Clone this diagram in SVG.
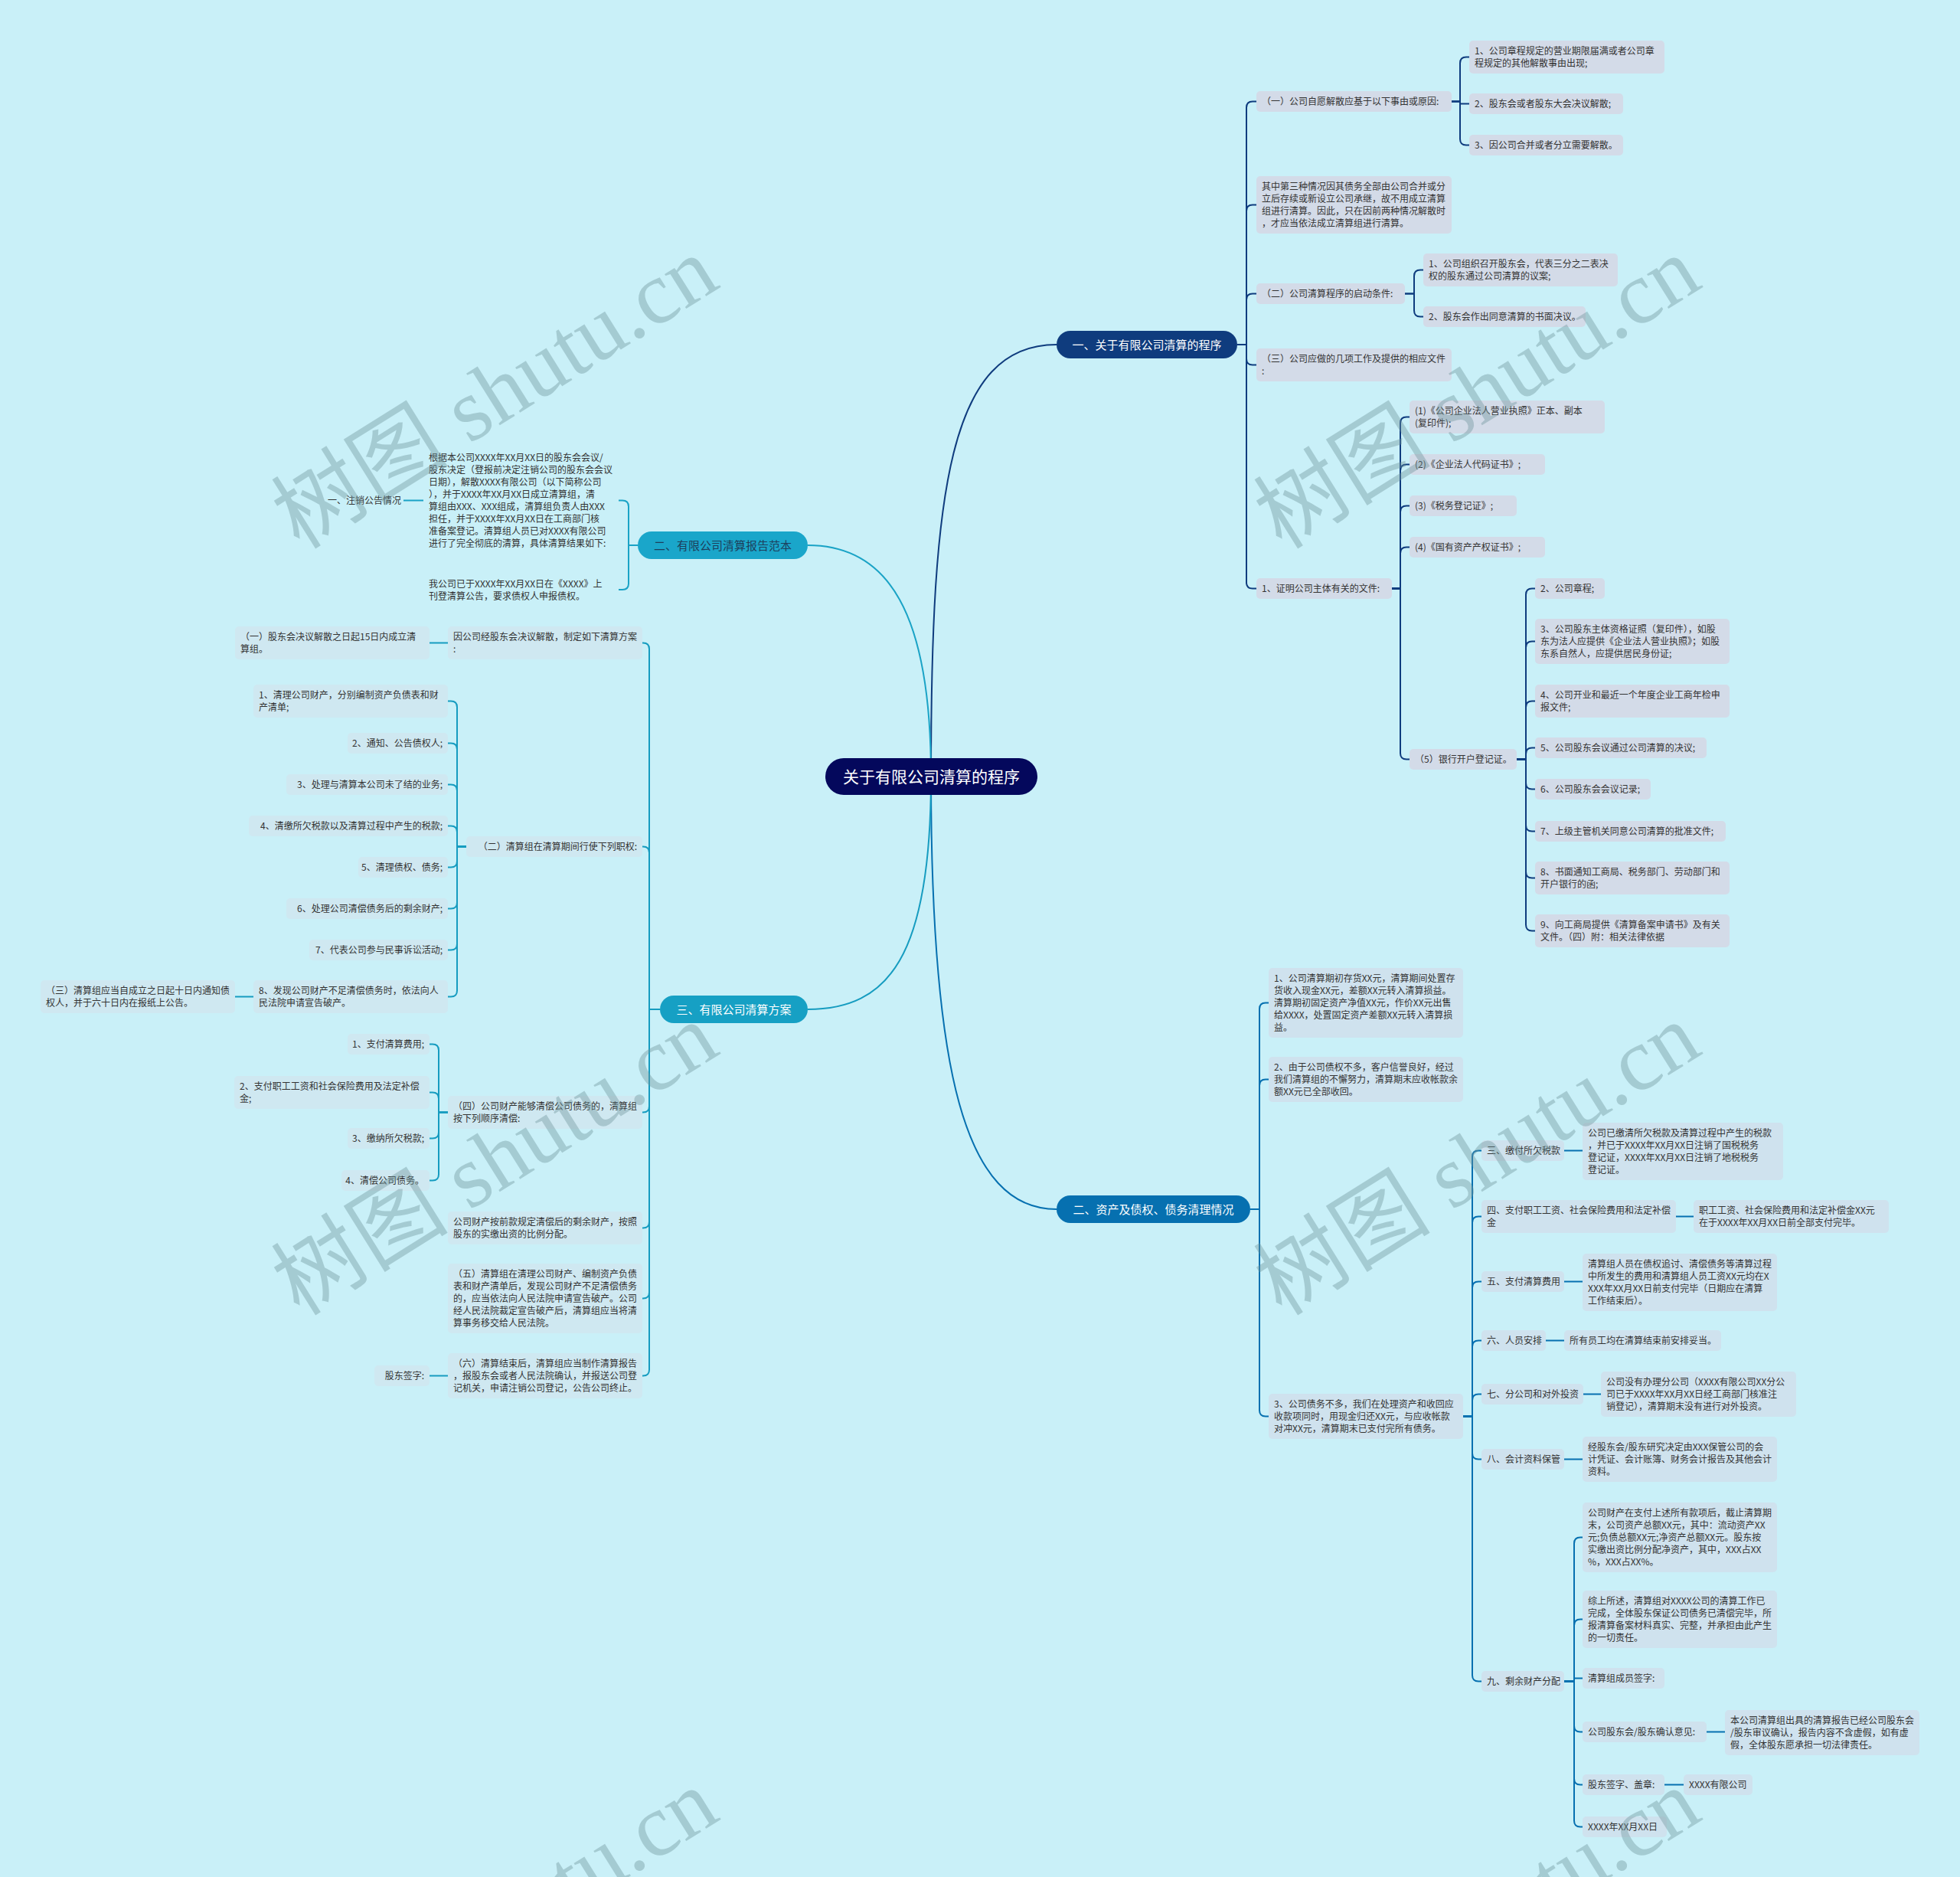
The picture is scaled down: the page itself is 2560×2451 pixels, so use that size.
<svg xmlns="http://www.w3.org/2000/svg" width="2560" height="2451" viewBox="0 0 2560 2451">
<style>
.t{font-family:"Noto Sans CJK SC","Noto Sans",sans-serif;font-size:12px;fill:#333}
.te{font-family:"Noto Sans CJK SC","Noto Sans",sans-serif;font-size:12px;fill:#333;text-anchor:end}
.b1{fill:#d3dbe8}
.b2{fill:#cfe2ee}
.b3{fill:#cfe8f1}
.bn{fill:none}
.br{font-family:"Noto Sans CJK SC","Noto Sans",sans-serif;font-size:15px;fill:#fff;text-anchor:middle}
.c1{fill:none;stroke:#0f3c7e;stroke-width:2}
.c2{fill:none;stroke:#0670b0;stroke-width:2}
.c3{fill:none;stroke:#1aa3c6;stroke-width:2}
.c4{fill:none;stroke:#169cc0;stroke-width:2}
.wm{font-family:"Liberation Serif","Noto Sans CJK SC",serif;font-size:116px;fill:#6f959c;opacity:0.4;text-anchor:middle}
</style>
<rect x="0" y="0" width="2560" height="2451" fill="#c9f0f8"/>

<g id="connectors">
<path class="c1" d="M1216,1014 C1216,640 1240,450 1380,450"/>
<path class="c2" d="M1216,1014 C1216,1400 1260,1579 1380,1579"/>
<path class="c3" d="M1216,1014 C1216,800 1160,712 1055,712"/>
<path class="c4" d="M1216,1014 C1216,1250 1160,1318 1055,1318"/>

<path class="c1" d="M1616,450 H1628 V140.5 Q1628,132.5 1636,132.5 H1641"/>
<path class="c1" d="M1616,450 H1628 V275.5 Q1628,267.5 1636,267.5 H1641"/>
<path class="c1" d="M1616,450 H1628 V391.5 Q1628,383.5 1636,383.5 H1641"/>
<path class="c1" d="M1616,450 H1628 V468.5 Q1628,476.5 1636,476.5 H1641"/>
<path class="c1" d="M1616,450 H1628 V760.5 Q1628,768.5 1636,768.5 H1641"/>

<path class="c1" d="M1896,132.5 H1907 V82.5 Q1907,74.5 1915,74.5 H1919"/>
<path class="c1" d="M1896,132.5 H1907 V135.5 H1919"/>
<path class="c1" d="M1896,132.5 H1907 V181.5 Q1907,189.5 1915,189.5 H1919"/>

<path class="c1" d="M1835,383.5 H1847 V360.5 Q1847,352.5 1855,352.5 H1859"/>
<path class="c1" d="M1835,383.5 H1847 V405.5 Q1847,413.5 1855,413.5 H1859"/>

<path class="c1" d="M1818,768.5 H1829 V552.5 Q1829,544.5 1837,544.5 H1841"/>
<path class="c1" d="M1818,768.5 H1829 V614.5 Q1829,606.5 1837,606.5 H1841"/>
<path class="c1" d="M1818,768.5 H1829 V668.5 Q1829,660.5 1837,660.5 H1841"/>
<path class="c1" d="M1818,768.5 H1829 V722.5 Q1829,714.5 1837,714.5 H1841"/>
<path class="c1" d="M1818,768.5 H1829 V983.5 Q1829,991.5 1837,991.5 H1841"/>

<path class="c1" d="M1981,991.5 H1993 V776.5 Q1993,768.5 2001,768.5 H2005"/>
<path class="c1" d="M1981,991.5 H1993 V845.5 Q1993,837.5 2001,837.5 H2005"/>
<path class="c1" d="M1981,991.5 H1993 V923.5 Q1993,915.5 2001,915.5 H2005"/>
<path class="c1" d="M1981,991.5 H1993 V984.5 Q1993,976.5 2001,976.5 H2005"/>
<path class="c1" d="M1981,991.5 H1993 V1022.5 Q1993,1030.5 2001,1030.5 H2005"/>
<path class="c1" d="M1981,991.5 H1993 V1077.5 Q1993,1085.5 2001,1085.5 H2005"/>
<path class="c1" d="M1981,991.5 H1993 V1138.5 Q1993,1146.5 2001,1146.5 H2005"/>
<path class="c1" d="M1981,991.5 H1993 V1207.5 Q1993,1215.5 2001,1215.5 H2005"/>

<path class="c2" d="M1633,1579 H1645 V1317.5 Q1645,1309.5 1653,1309.5 H1657"/>
<path class="c2" d="M1633,1579 H1645 V1417.5 Q1645,1409.5 1653,1409.5 H1657"/>
<path class="c2" d="M1633,1579 H1645 V1841.5 Q1645,1849.5 1653,1849.5 H1657"/>

<path class="c2" d="M1911,1849.5 H1923 V1510.5 Q1923,1502.5 1931,1502.5 H1935"/>
<path class="c2" d="M1911,1849.5 H1923 V1596.5 Q1923,1588.5 1931,1588.5 H1935"/>
<path class="c2" d="M1911,1849.5 H1923 V1681.5 Q1923,1673.5 1931,1673.5 H1935"/>
<path class="c2" d="M1911,1849.5 H1923 V1758.5 Q1923,1750.5 1931,1750.5 H1935"/>
<path class="c2" d="M1911,1849.5 H1923 V1828.5 Q1923,1820.5 1931,1820.5 H1935"/>
<path class="c2" d="M1911,1849.5 H1923 V1897.5 Q1923,1905.5 1931,1905.5 H1935"/>
<path class="c2" d="M1911,1849.5 H1923 V2187.5 Q1923,2195.5 1931,2195.5 H1935"/>

<path class="c2" d="M2043,1502.5 H2067"/>
<path class="c2" d="M2189,1588.5 H2212"/>
<path class="c2" d="M2043,1673.5 H2067"/>
<path class="c2" d="M2019,1750.5 H2043"/>
<path class="c2" d="M2068,1820.5 H2091"/>
<path class="c2" d="M2043,1905.5 H2067"/>

<path class="c2" d="M2043,2195.5 H2056 V2015.5 Q2056,2007.5 2064,2007.5 H2067"/>
<path class="c2" d="M2043,2195.5 H2056 V2122.5 Q2056,2114.5 2064,2114.5 H2067"/>
<path class="c2" d="M2043,2195.5 H2056 V2191.5 H2067"/>
<path class="c2" d="M2043,2195.5 H2056 V2253.5 Q2056,2261.5 2064,2261.5 H2067"/>
<path class="c2" d="M2043,2195.5 H2056 V2322.5 Q2056,2330.5 2064,2330.5 H2067"/>
<path class="c2" d="M2043,2195.5 H2056 V2377.5 Q2056,2385.5 2064,2385.5 H2067"/>
<path class="c2" d="M2229,2261.5 H2253"/>
<path class="c2" d="M2174,2330.5 H2199"/>

<path class="c3" d="M833,712 H821 V661.5 Q821,653.5 813,653.5 H808"/>
<path class="c3" d="M833,712 H821 V762 Q821,770 813,770 H808"/>
<path class="c3" d="M553,653.5 H527"/>

<path class="c4" d="M862,1318 H848 V847.5 Q848,839.5 840,839.5 H839"/>
<path class="c4" d="M862,1318 H848 V1113.5 Q848,1105.5 840,1105.5 H839"/>
<path class="c4" d="M862,1318 H848 V1444.5 Q848,1452.5 840,1452.5 H839"/>
<path class="c4" d="M862,1318 H848 V1595.5 Q848,1603.5 840,1603.5 H839"/>
<path class="c4" d="M862,1318 H848 V1687.5 Q848,1695.5 840,1695.5 H839"/>
<path class="c4" d="M862,1318 H848 V1788.5 Q848,1796.5 840,1796.5 H839"/>
<path class="c4" d="M585,839.5 H561"/>
<path class="c4" d="M609,1105.5 H597 V923.5 Q597,915.5 589,915.5 H585"/>
<path class="c4" d="M609,1105.5 H597 V978.5 Q597,970.5 589,970.5 H585"/>
<path class="c4" d="M609,1105.5 H597 V1032.5 Q597,1024.5 589,1024.5 H585"/>
<path class="c4" d="M609,1105.5 H597 V1086.5 Q597,1078.5 589,1078.5 H585"/>
<path class="c4" d="M609,1105.5 H597 V1124.5 Q597,1132.5 589,1132.5 H585"/>
<path class="c4" d="M609,1105.5 H597 V1178.5 Q597,1186.5 589,1186.5 H585"/>
<path class="c4" d="M609,1105.5 H597 V1232.5 Q597,1240.5 589,1240.5 H585"/>
<path class="c4" d="M609,1105.5 H597 V1293.5 Q597,1301.5 589,1301.5 H585"/>
<path class="c4" d="M331,1301.5 H307"/>
<path class="c4" d="M585,1452.5 H573 V1371.5 Q573,1363.5 565,1363.5 H561"/>
<path class="c4" d="M585,1452.5 H573 V1434.5 Q573,1426.5 565,1426.5 H561"/>
<path class="c4" d="M585,1452.5 H573 V1478.5 Q573,1486.5 565,1486.5 H561"/>
<path class="c4" d="M585,1452.5 H573 V1533.5 Q573,1541.5 565,1541.5 H561"/>
<path class="c4" d="M585,1796.5 H561"/>
</g>

<g id="root"><rect x="1078" y="990" width="277" height="48" rx="24" fill="#04085c"/><text x="1216.5" y="1021.5" style="font-family:'Noto Sans CJK SC',sans-serif;font-size:21px;fill:#fff;text-anchor:middle">关于有限公司清算的程序</text></g>
<g id="b1"><rect x="1380" y="432" width="236" height="36" rx="18" fill="#0f3c7e"/><text class="br" x="1498" y="455.5">一、关于有限公司清算的程序</text></g>
<g id="b2"><rect x="1380" y="1561" width="253" height="36" rx="18" fill="#0670b0"/><text class="br" x="1506.5" y="1584.5">二、资产及债权、债务清理情况</text></g>
<g id="l1"><rect x="833" y="694" width="222" height="36" rx="18" fill="#1aa6ca"/><text class="br" x="944" y="717.5" style="fill:#1d3f5c">二、有限公司清算报告范本</text></g>
<g id="l2"><rect x="862" y="1300" width="193" height="36" rx="18" fill="#16a0c4"/><text class="br" x="958.5" y="1323.5">三、有限公司清算方案</text></g>

<g id="n1"><rect class="b1" x="1641" y="119" width="255" height="27" rx="5"/><text class="t" x="1648" y="137">（一）公司自愿解散应基于以下事由或原因:</text></g>
<g id="n1c1"><rect class="b1" x="1919" y="53" width="255" height="43" rx="5"/><text class="t" x="1926" y="71"><tspan x="1926">1、公司章程规定的营业期限届满或者公司章</tspan><tspan x="1926" dy="16">程规定的其他解散事由出现;</tspan></text></g>
<g id="n1c2"><rect class="b1" x="1919" y="122" width="201" height="27" rx="5"/><text class="t" x="1926" y="140">2、股东会或者股东大会决议解散;</text></g>
<g id="n1c3"><rect class="b1" x="1919" y="176" width="201" height="27" rx="5"/><text class="t" x="1926" y="194">3、因公司合并或者分立需要解散。</text></g>
<g id="n2"><rect class="b1" x="1641" y="230" width="255" height="75" rx="5"/><text class="t" y="248"><tspan x="1648">其中第三种情况因其债务全部由公司合并或分</tspan><tspan x="1648" dy="16">立后存续或新设立公司承继，故不用成立清算</tspan><tspan x="1648" dy="16">组进行清算。因此，只在因前两种情况解散时</tspan><tspan x="1648" dy="16">，才应当依法成立清算组进行清算。</tspan></text></g>
<g id="n3"><rect class="b1" x="1641" y="370" width="194" height="27" rx="5"/><text class="t" x="1648" y="388">（二）公司清算程序的启动条件:</text></g>
<g id="n3c1"><rect class="b1" x="1859" y="331" width="254" height="43" rx="5"/><text class="t" y="349"><tspan x="1866">1、公司组织召开股东会，代表三分之二表决</tspan><tspan x="1866" dy="16">权的股东通过公司清算的议案;</tspan></text></g>
<g id="n3c2"><rect class="b1" x="1859" y="400" width="212" height="27" rx="5"/><text class="t" x="1866" y="418">2、股东会作出同意清算的书面决议。</text></g>
<g id="n4"><rect class="b1" x="1641" y="455" width="255" height="43" rx="5"/><text class="t" y="473"><tspan x="1648">（三）公司应做的几项工作及提供的相应文件</tspan><tspan x="1648" dy="16">:</tspan></text></g>
<g id="n5"><rect class="b1" x="1641" y="755" width="177" height="27" rx="5"/><text class="t" x="1648" y="773">1、证明公司主体有关的文件:</text></g>
<g id="n5c1"><rect class="b1" x="1841" y="523" width="255" height="43" rx="5"/><text class="t" y="541"><tspan x="1848">(1)《公司企业法人营业执照》正本、副本</tspan><tspan x="1848" dy="16">(复印件);</tspan></text></g>
<g id="n5c2"><rect class="b1" x="1841" y="593" width="177" height="27" rx="5"/><text class="t" x="1848" y="611">(2)《企业法人代码证书》;</text></g>
<g id="n5c3"><rect class="b1" x="1841" y="647" width="140" height="27" rx="5"/><text class="t" x="1848" y="665">(3)《税务登记证》;</text></g>
<g id="n5c4"><rect class="b1" x="1841" y="701" width="177" height="27" rx="5"/><text class="t" x="1848" y="719">(4)《国有资产产权证书》;</text></g>
<g id="n5c5"><rect class="b1" x="1841" y="978" width="140" height="27" rx="5"/><text class="t" x="1848" y="996">（5）银行开户登记证。</text></g>
<g id="d2"><rect class="b1" x="2005" y="755" width="91" height="27" rx="5"/><text class="t" x="2012" y="773">2、公司章程;</text></g>
<g id="d3"><rect class="b1" x="2005" y="808" width="254" height="59" rx="5"/><text class="t" y="826"><tspan x="2012">3、公司股东主体资格证照（复印件），如股</tspan><tspan x="2012" dy="16">东为法人应提供《企业法人营业执照》；如股</tspan><tspan x="2012" dy="16">东系自然人，应提供居民身份证;</tspan></text></g>
<g id="d4"><rect class="b1" x="2005" y="894" width="254" height="43" rx="5"/><text class="t" y="912"><tspan x="2012">4、公司开业和最近一个年度企业工商年检申</tspan><tspan x="2012" dy="16">报文件;</tspan></text></g>
<g id="d5"><rect class="b1" x="2005" y="963" width="224" height="27" rx="5"/><text class="t" x="2012" y="981">5、公司股东会议通过公司清算的决议;</text></g>
<g id="d6"><rect class="b1" x="2005" y="1017" width="151" height="27" rx="5"/><text class="t" x="2012" y="1035">6、公司股东会会议记录;</text></g>
<g id="d7"><rect class="b1" x="2005" y="1072" width="249" height="27" rx="5"/><text class="t" x="2012" y="1090">7、上级主管机关同意公司清算的批准文件;</text></g>
<g id="d8"><rect class="b1" x="2005" y="1125" width="254" height="43" rx="5"/><text class="t" y="1143"><tspan x="2012">8、书面通知工商局、税务部门、劳动部门和</tspan><tspan x="2012" dy="16">开户银行的函;</tspan></text></g>
<g id="d9"><rect class="b1" x="2005" y="1194" width="254" height="43" rx="5"/><text class="t" y="1212"><tspan x="2012">9、向工商局提供《清算备案申请书》及有关</tspan><tspan x="2012" dy="16">文件。（四）附：相关法律依据</tspan></text></g>

<g id="e1"><rect class="b2" x="1657" y="1264" width="254" height="91" rx="5"/><text class="t" y="1282"><tspan x="1664">1、公司清算期初存货XX元，清算期间处置存</tspan><tspan x="1664" dy="16">货收入现金XX元，差额XX元转入清算损益。</tspan><tspan x="1664" dy="16">清算期初固定资产净值XX元，作价XX元出售</tspan><tspan x="1664" dy="16">给XXXX，处置固定资产差额XX元转入清算损</tspan><tspan x="1664" dy="16">益。</tspan></text></g>
<g id="e2"><rect class="b2" x="1657" y="1380" width="254" height="59" rx="5"/><text class="t" y="1398"><tspan x="1664">2、由于公司债权不多，客户信誉良好，经过</tspan><tspan x="1664" dy="16">我们清算组的不懈努力，清算期末应收帐款余</tspan><tspan x="1664" dy="16">额XX元已全部收回。</tspan></text></g>
<g id="e3"><rect class="b2" x="1657" y="1820" width="254" height="59" rx="5"/><text class="t" y="1838"><tspan x="1664">3、公司债务不多，我们在处理资产和收回应</tspan><tspan x="1664" dy="16">收款项同时，用现金归还XX元，与应收帐款</tspan><tspan x="1664" dy="16">对冲XX元，清算期末已支付完所有债务。</tspan></text></g>
<g id="f3"><rect class="b2" x="1935" y="1489" width="108" height="27" rx="5"/><text class="t" x="1942" y="1507">三、缴付所欠税款</text></g>
<g id="f3c"><rect class="b2" x="2067" y="1466" width="262" height="75" rx="5"/><text class="t" y="1484"><tspan x="2074">公司已缴清所欠税款及清算过程中产生的税款</tspan><tspan x="2074" dy="16">，并已于XXXX年XX月XX日注销了国税税务</tspan><tspan x="2074" dy="16">登记证，XXXX年XX月XX日注销了地税税务</tspan><tspan x="2074" dy="16">登记证。</tspan></text></g>
<g id="f4"><rect class="b2" x="1935" y="1567" width="254" height="43" rx="5"/><text class="t" y="1585"><tspan x="1942">四、支付职工工资、社会保险费用和法定补偿</tspan><tspan x="1942" dy="16">金</tspan></text></g>
<g id="f4c"><rect class="b2" x="2212" y="1567" width="255" height="43" rx="5"/><text class="t" y="1585"><tspan x="2219">职工工资、社会保险费用和法定补偿金XX元</tspan><tspan x="2219" dy="16">在于XXXX年XX月XX日前全部支付完毕。</tspan></text></g>
<g id="f5"><rect class="b2" x="1935" y="1660" width="108" height="27" rx="5"/><text class="t" x="1942" y="1678">五、支付清算费用</text></g>
<g id="f5c"><rect class="b2" x="2067" y="1637" width="254" height="75" rx="5"/><text class="t" y="1655"><tspan x="2074">清算组人员在债权追讨、清偿债务等清算过程</tspan><tspan x="2074" dy="16">中所发生的费用和清算组人员工资XX元均在X</tspan><tspan x="2074" dy="16">XXX年XX月XX日前支付完毕（日期应在清算</tspan><tspan x="2074" dy="16">工作结束后）。</tspan></text></g>
<g id="f6"><rect class="b2" x="1935" y="1737" width="84" height="27" rx="5"/><text class="t" x="1942" y="1755">六、人员安排</text></g>
<g id="f6c"><rect class="b2" x="2043" y="1737" width="205" height="27" rx="5"/><text class="t" x="2050" y="1755">所有员工均在清算结束前安排妥当。</text></g>
<g id="f7"><rect class="b2" x="1935" y="1807" width="133" height="27" rx="5"/><text class="t" x="1942" y="1825">七、分公司和对外投资</text></g>
<g id="f7c"><rect class="b2" x="2091" y="1791" width="255" height="59" rx="5"/><text class="t" y="1809"><tspan x="2098">公司没有办理分公司（XXXX有限公司XX分公</tspan><tspan x="2098" dy="16">司已于XXXX年XX月XX日经工商部门核准注</tspan><tspan x="2098" dy="16">销登记），清算期末没有进行对外投资。</tspan></text></g>
<g id="f8"><rect class="b2" x="1935" y="1892" width="108" height="27" rx="5"/><text class="t" x="1942" y="1910">八、会计资料保管</text></g>
<g id="f8c"><rect class="b2" x="2067" y="1876" width="254" height="59" rx="5"/><text class="t" y="1894"><tspan x="2074">经股东会/股东研究决定由XXX保管公司的会</tspan><tspan x="2074" dy="16">计凭证、会计账簿、财务会计报告及其他会计</tspan><tspan x="2074" dy="16">资料。</tspan></text></g>
<g id="f9"><rect class="b2" x="1935" y="2182" width="108" height="27" rx="5"/><text class="t" x="1942" y="2200">九、剩余财产分配</text></g>
<g id="g1"><rect class="b2" x="2067" y="1962" width="254" height="91" rx="5"/><text class="t" y="1980"><tspan x="2074">公司财产在支付上述所有款项后，截止清算期</tspan><tspan x="2074" dy="16">末，公司资产总额XX元，其中：流动资产XX</tspan><tspan x="2074" dy="16">元;负债总额XX元;净资产总额XX元。股东按</tspan><tspan x="2074" dy="16">实缴出资比例分配净资产，其中，XXX占XX</tspan><tspan x="2074" dy="16">%，XXX占XX%。</tspan></text></g>
<g id="g2"><rect class="b2" x="2067" y="2077" width="254" height="75" rx="5"/><text class="t" y="2095"><tspan x="2074">综上所述，清算组对XXXX公司的清算工作已</tspan><tspan x="2074" dy="16">完成，全体股东保证公司债务已清偿完毕，所</tspan><tspan x="2074" dy="16">报清算备案材料真实、完整，并承担由此产生</tspan><tspan x="2074" dy="16">的一切责任。</tspan></text></g>
<g id="g3"><rect class="b2" x="2067" y="2178" width="107" height="27" rx="5"/><text class="t" x="2074" y="2196">清算组成员签字:</text></g>
<g id="g4"><rect class="b2" x="2067" y="2248" width="162" height="27" rx="5"/><text class="t" x="2074" y="2266">公司股东会/股东确认意见:</text></g>
<g id="g4c"><rect class="b2" x="2253" y="2233" width="254" height="59" rx="5"/><text class="t" y="2251"><tspan x="2260">本公司清算组出具的清算报告已经公司股东会</tspan><tspan x="2260" dy="16">/股东审议确认，报告内容不含虚假，如有虚</tspan><tspan x="2260" dy="16">假，全体股东愿承担一切法律责任。</tspan></text></g>
<g id="g5"><rect class="b2" x="2067" y="2317" width="107" height="27" rx="5"/><text class="t" x="2074" y="2335">股东签字、盖章:</text></g>
<g id="g5c"><rect class="b2" x="2199" y="2317" width="90" height="27" rx="5"/><text class="t" x="2206" y="2335">XXXX有限公司</text></g>
<g id="g6"><rect class="b2" x="2067" y="2372" width="110" height="27" rx="5"/><text class="t" x="2074" y="2390">XXXX年XX月XX日</text></g>

<g id="h1"><rect class="bn" x="553" y="584" width="255" height="139" rx="5"/><text class="t" y="602"><tspan x="560">根据本公司XXXX年XX月XX日的股东会会议/</tspan><tspan x="560" dy="16">股东决定（登报前决定注销公司的股东会会议</tspan><tspan x="560" dy="16">日期），解散XXXX有限公司（以下简称公司</tspan><tspan x="560" dy="16">），并于XXXX年XX月XX日成立清算组，清</tspan><tspan x="560" dy="16">算组由XXX、XXX组成，清算组负责人由XXX</tspan><tspan x="560" dy="16">担任，并于XXXX年XX月XX日在工商部门核</tspan><tspan x="560" dy="16">准备案登记。清算组人员已对XXXX有限公司</tspan><tspan x="560" dy="16">进行了完全彻底的清算，具体清算结果如下:</tspan></text></g>
<g id="h1c"><text class="te" x="524" y="657.5">一、注销公告情况</text></g>
<g id="h2"><rect class="bn" x="553" y="748.5" width="255" height="43" rx="5"/><text class="t" y="766.5"><tspan x="560">我公司已于XXXX年XX月XX日在《XXXX》上</tspan><tspan x="560" dy="16">刊登清算公告，要求债权人申报债权。</tspan></text></g>

<g id="i1"><rect class="b3" x="585" y="818" width="254" height="43" rx="5"/><text class="t" y="836"><tspan x="592">因公司经股东会决议解散，制定如下清算方案</tspan><tspan x="592" dy="16">:</tspan></text></g>
<g id="i1c"><rect class="b3" x="307" y="818" width="254" height="43" rx="5"/><text class="t" y="836"><tspan x="314">（一）股东会决议解散之日起15日内成立清</tspan><tspan x="314" dy="16">算组。</tspan></text></g>
<g id="i2"><rect class="b3" x="609" y="1092" width="230" height="27" rx="5"/><text class="te" x="832" y="1110">（二）清算组在清算期间行使下列职权:</text></g>
<g id="j1"><rect class="b3" x="331" y="894" width="254" height="43" rx="5"/><text class="t" y="912"><tspan x="338">1、清理公司财产，分别编制资产负债表和财</tspan><tspan x="338" dy="16">产清单;</tspan></text></g>
<g id="j2"><rect class="b3" x="454" y="957" width="131" height="27" rx="5"/><text class="te" x="578" y="975">2、通知、公告债权人;</text></g>
<g id="j3"><rect class="b3" x="374" y="1011" width="211" height="27" rx="5"/><text class="te" x="578" y="1029">3、处理与清算本公司未了结的业务;</text></g>
<g id="j4"><rect class="b3" x="325" y="1065" width="260" height="27" rx="5"/><text class="te" x="578" y="1083">4、清缴所欠税款以及清算过程中产生的税款;</text></g>
<g id="j5"><rect class="b3" x="468" y="1119" width="117" height="27" rx="5"/><text class="te" x="578" y="1137">5、清理债权、债务;</text></g>
<g id="j6"><rect class="b3" x="374" y="1173" width="211" height="27" rx="5"/><text class="te" x="578" y="1191">6、处理公司清偿债务后的剩余财产;</text></g>
<g id="j7"><rect class="b3" x="404" y="1227" width="181" height="27" rx="5"/><text class="te" x="578" y="1245">7、代表公司参与民事诉讼活动;</text></g>
<g id="j8"><rect class="b3" x="331" y="1280" width="254" height="43" rx="5"/><text class="t" y="1298"><tspan x="338">8、发现公司财产不足清偿债务时，依法向人</tspan><tspan x="338" dy="16">民法院申请宣告破产。</tspan></text></g>
<g id="j8c"><rect class="b3" x="53" y="1280" width="254" height="43" rx="5"/><text class="t" y="1298"><tspan x="60">（三）清算组应当自成立之日起十日内通知债</tspan><tspan x="60" dy="16">权人，并于六十日内在报纸上公告。</tspan></text></g>
<g id="k"><rect class="b3" x="585" y="1431" width="254" height="43" rx="5"/><text class="t" y="1449"><tspan x="592">（四）公司财产能够清偿公司债务的，清算组</tspan><tspan x="592" dy="16">按下列顺序清偿:</tspan></text></g>
<g id="k1"><rect class="b3" x="454" y="1350" width="107" height="27" rx="5"/><text class="te" x="554" y="1368">1、支付清算费用;</text></g>
<g id="k2"><rect class="b3" x="306" y="1405" width="255" height="43" rx="5"/><text class="t" y="1423"><tspan x="313">2、支付职工工资和社会保险费用及法定补偿</tspan><tspan x="313" dy="16">金;</tspan></text></g>
<g id="k3"><rect class="b3" x="454" y="1473" width="107" height="27" rx="5"/><text class="te" x="554" y="1491">3、缴纳所欠税款;</text></g>
<g id="k4"><rect class="b3" x="446" y="1528" width="115" height="27" rx="5"/><text class="te" x="554" y="1546">4、清偿公司债务。</text></g>
<g id="m"><rect class="b3" x="585" y="1582" width="254" height="43" rx="5"/><text class="t" y="1600"><tspan x="592">公司财产按前款规定清偿后的剩余财产，按照</tspan><tspan x="592" dy="16">股东的实缴出资的比例分配。</tspan></text></g>
<g id="p"><rect class="b3" x="585" y="1650" width="254" height="91" rx="5"/><text class="t" y="1668"><tspan x="592">（五）清算组在清理公司财产、编制资产负债</tspan><tspan x="592" dy="16">表和财产清单后，发现公司财产不足清偿债务</tspan><tspan x="592" dy="16">的，应当依法向人民法院申请宣告破产。公司</tspan><tspan x="592" dy="16">经人民法院裁定宣告破产后，清算组应当将清</tspan><tspan x="592" dy="16">算事务移交给人民法院。</tspan></text></g>
<g id="q"><rect class="b3" x="585" y="1767" width="254" height="59" rx="5"/><text class="t" y="1785"><tspan x="592">（六）清算结束后，清算组应当制作清算报告</tspan><tspan x="592" dy="16">，报股东会或者人民法院确认，并报送公司登</tspan><tspan x="592" dy="16">记机关，申请注销公司登记，公告公司终止。</tspan></text></g>
<g id="qc"><rect class="b3" x="489" y="1783" width="72" height="27" rx="5"/><text class="te" x="554" y="1801">股东签字:</text></g>

<g id="watermarks">
<text class="wm" x="647" y="552" transform="rotate(-32 647 514)">树图 shutu.cn</text>
<text class="wm" x="1930" y="552" transform="rotate(-32 1930 514)">树图 shutu.cn</text>
<text class="wm" x="647" y="1553" transform="rotate(-32 647 1515)">树图 shutu.cn</text>
<text class="wm" x="1930" y="1553" transform="rotate(-32 1930 1515)">树图 shutu.cn</text>
<text class="wm" x="647" y="2553" transform="rotate(-32 647 2515)">树图 shutu.cn</text>
<text class="wm" x="1930" y="2553" transform="rotate(-32 1930 2515)">树图 shutu.cn</text>
</g>
</svg>
